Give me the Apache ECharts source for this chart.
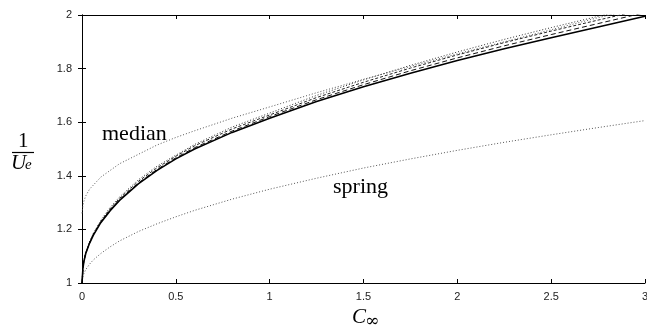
<!DOCTYPE html>
<html>
<head>
<meta charset="utf-8">
<script src="https://cdn.jsdelivr.net/npm/echarts@6/dist/echarts.min.js"></script>
<style>
  html, body { margin: 0; padding: 0; background: #fff; }
  #chart { width: 647px; height: 331px; }
</style>
</head>
<body>
<div id="chart"></div>
<script>
// C_inf sample points
const cInf = [0, 0.005, 0.01, 0.02, 0.04, 0.06, 0.1, 0.15, 0.2, 0.3, 0.4, 0.5, 0.6, 0.8, 1.0, 1.25, 1.5, 1.75, 2.0, 2.25, 2.5, 2.75, 3.0]

// 1/Ue
const solidVals = [1.0, 1.055, 1.08, 1.11, 1.148, 1.178, 1.225, 1.27, 1.308, 1.37, 1.42, 1.463, 1.5, 1.562, 1.615, 1.677, 1.732, 1.783, 1.83, 1.874, 1.915, 1.955, 1.995]
const dashVals = [1.0, 1.056, 1.081, 1.111, 1.149, 1.18, 1.227, 1.273, 1.311, 1.373, 1.424, 1.467, 1.505, 1.567, 1.621, 1.684, 1.74, 1.792, 1.84, 1.885, 1.927, 1.968, 2.009]
const fineDashVals = [1.0, 1.057, 1.082, 1.113, 1.151, 1.182, 1.23, 1.277, 1.316, 1.379, 1.43, 1.473, 1.512, 1.575, 1.627, 1.692, 1.749, 1.802, 1.851, 1.897, 1.94, 1.981, 2.021]
const dotVals = [1.0, 1.058, 1.083, 1.114, 1.153, 1.185, 1.234, 1.282, 1.321, 1.385, 1.436, 1.477, 1.517, 1.582, 1.634, 1.7, 1.758, 1.812, 1.862, 1.909, 1.953, 1.995, 2.035]
const medianVals = [1.26, 1.29, 1.305, 1.325, 1.35, 1.365, 1.395, 1.42, 1.445, 1.48, 1.515, 1.543, 1.568, 1.615, 1.657, 1.71, 1.76, 1.808, 1.855, 1.9, 1.945, 1.99, 2.03]
const springVals = [1.0, 1.025, 1.035, 1.05, 1.07, 1.086, 1.11, 1.135, 1.157, 1.192, 1.221, 1.247, 1.271, 1.313, 1.35, 1.391, 1.429, 1.463, 1.495, 1.525, 1.553, 1.58, 1.606]

const xTicks = { min: 0, max: 3, interval: 0.5 }
const yTicks = { min: 1, max: 2, interval: 0.2 }

function pairs (vals) {
  return cInf.map((x, i) => [x, vals[i]])
}

function curve (name, vals, color, width, type) {
  return {
    name: name,
    type: 'line',
    data: pairs(vals),
    showSymbol: false,
    symbol: 'none',
    smooth: false,
    silent: true,
    lineStyle: { color: color, width: width, type: type },
    z: 3
  }
}

const axisLine = { show: true, lineStyle: { color: '#000', width: 1 } }
const tick = { show: true, inside: true, length: 4, lineStyle: { color: '#000' } }
const label = { fontFamily: 'Liberation Sans', fontSize: 11, color: '#222' }

let myChart = echarts.init(document.getElementById('chart'), null, { renderer: 'canvas' })
myChart.setOption({
  animation: false,
  backgroundColor: '#fff',
  grid: { left: 82, right: 2, top: 15, bottom: 48, outerBoundsMode: 'none', containLabel: false },
  xAxis: [
    {
      type: 'value', min: xTicks.min, max: xTicks.max, interval: xTicks.interval,
      axisLine: axisLine, axisTick: tick, splitLine: { show: false },
      axisLabel: Object.assign({ margin: 8 }, label)
    },
    {
      type: 'value', position: 'top', min: xTicks.min, max: xTicks.max, interval: xTicks.interval,
      axisLine: axisLine, axisTick: tick, splitLine: { show: false }, axisLabel: { show: false }
    }
  ],
  yAxis: [
    {
      type: 'value', min: yTicks.min, max: yTicks.max, interval: yTicks.interval,
      axisLine: axisLine, axisTick: tick, splitLine: { show: false },
      axisLabel: Object.assign({ margin: 10 }, label)
    },
    {
      type: 'value', position: 'right', min: yTicks.min, max: yTicks.max, interval: yTicks.interval,
      axisLine: axisLine, axisTick: tick, splitLine: { show: false }, axisLabel: { show: false }
    }
  ],
  series: [
    curve('spring', springVals, '#555', 1, [1, 2]),
    curve('median', medianVals, '#555', 1, [1, 2]),
    curve('dotted', dotVals, '#333', 1, [1, 2]),
    curve('fine dashed', fineDashVals, '#222', 1, [3, 2]),
    curve('dashed', dashVals, '#111', 1, [5, 3]),
    curve('solid', solidVals, '#000', 1.6, 'solid')
  ],
  graphic: [
    { type: 'text', x: 18, y: 131, style: { text: '1', font: '21px "Liberation Serif"', fill: '#000' } },
    { type: 'line', shape: { x1: 12, y1: 152.5, x2: 34, y2: 152.5 }, style: { stroke: '#000', lineWidth: 1.2 } },
    { type: 'text', x: 11, y: 153, style: { text: 'U', font: 'italic 21px "Liberation Serif"', fill: '#000' } },
    { type: 'text', x: 25, y: 158, style: { text: 'e', font: 'italic 15px "Liberation Serif"', fill: '#000' } },
    { type: 'text', x: 102, y: 123, style: { text: 'median', font: '22px "Liberation Serif"', fill: '#000' } },
    { type: 'text', x: 333, y: 176, style: { text: 'spring', font: '22px "Liberation Serif"', fill: '#000' } },
    { type: 'text', x: 352, y: 307, style: { text: 'C', font: 'italic 21px "Liberation Serif"', fill: '#000' } },
    { type: 'text', x: 365, y: 313, style: { text: '∞', font: '17px "DejaVu Serif"', fill: '#000' } }
  ]
})
</script>
</body>
</html>
